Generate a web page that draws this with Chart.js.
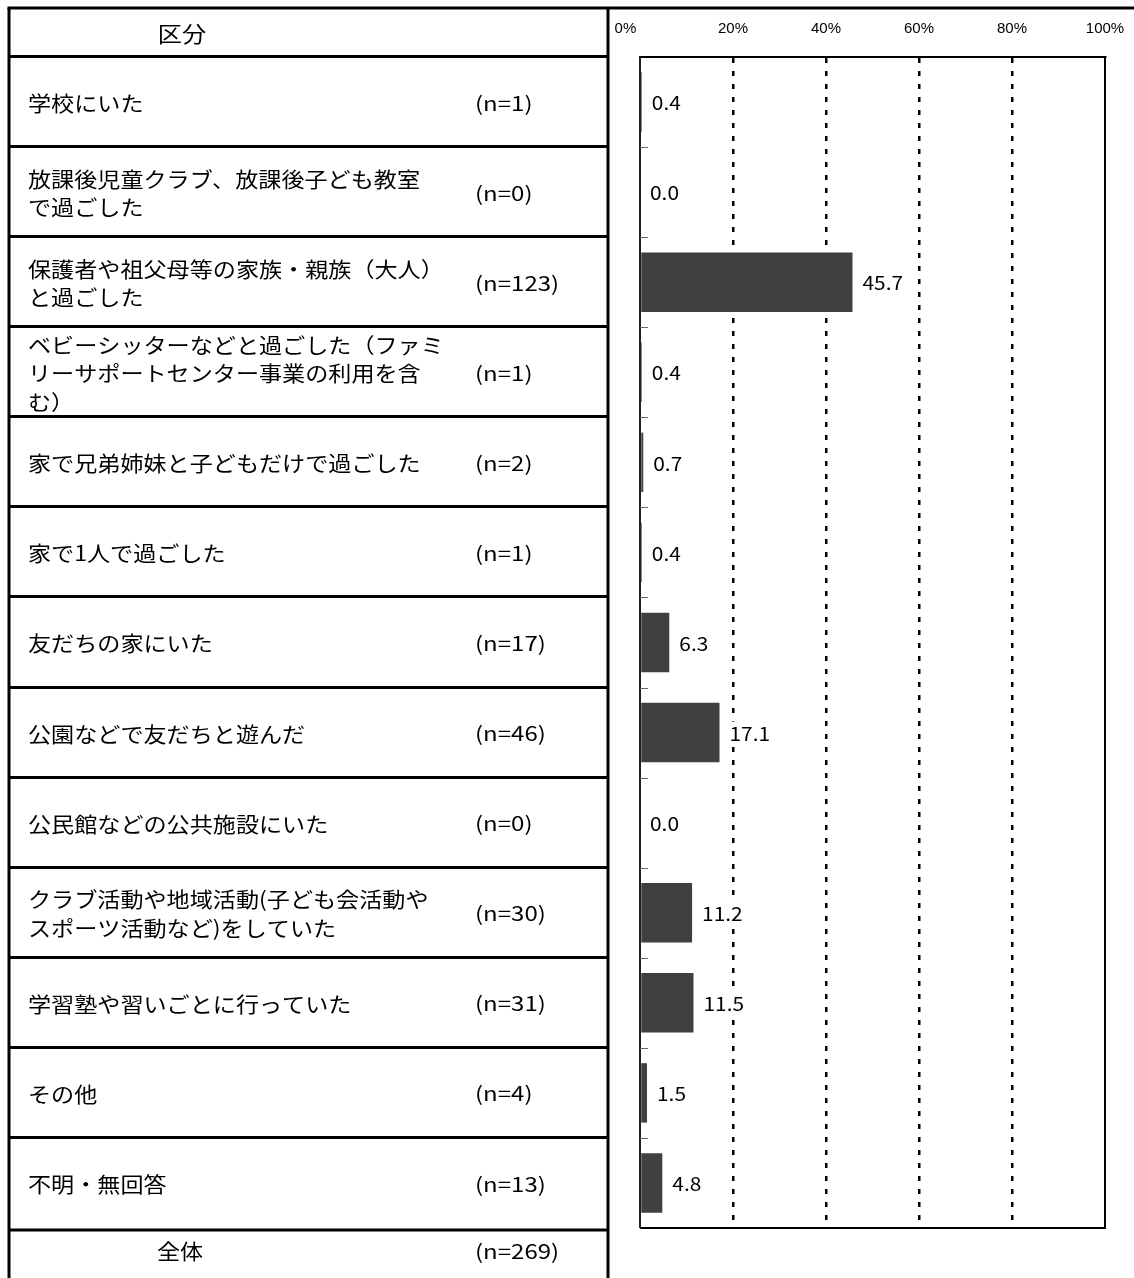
<!DOCTYPE html>
<html>
<head>
<meta charset="utf-8">
<script src="https://cdn.jsdelivr.net/npm/chart.js@4/dist/chart.umd.min.js"></script>
<style>
html,body{margin:0;padding:0;background:#fff;}
#wrap{width:1134px;height:1278px;position:relative;}
</style>
</head>
<body>
<div id="wrap"><canvas id="c" width="1134" height="1278"></canvas></div>
<script>
const categories = [
  ["学校にいた"],
  ["放課後児童クラブ、放課後子ども教室", "で過ごした"],
  ["保護者や祖父母等の家族・親族（大人）", "と過ごした"],
  ["ベビーシッターなどと過ごした（ファミ", "リーサポートセンター事業の利用を含", "む）"],
  ["家で兄弟姉妹と子どもだけで過ごした"],
  ["家で1人で過ごした"],
  ["友だちの家にいた"],
  ["公園などで友だちと遊んだ"],
  ["公民館などの公共施設にいた"],
  ["クラブ活動や地域活動(子ども会活動や", "スポーツ活動など)をしていた"],
  ["学習塾や習いごとに行っていた"],
  ["その他"],
  ["不明・無回答"]
];
const nCounts = [1, 0, 123, 1, 2, 1, 17, 46, 0, 30, 31, 4, 13];
const percentValues = [0.4, 0.0, 45.7, 0.4, 0.7, 0.4, 6.3, 17.1, 0.0, 11.2, 11.5, 1.5, 4.8];
const headerLabel = "区分";
const totalLabel = "全体";
const totalN = 269;
const xTicks = [0, 20, 40, 60, 80, 100];

const JP = '"Noto Sans CJK JP", "Noto Sans", sans-serif';
const SX = 1.1;

function drawText(ctx, t, x, y, align, sx) {
  ctx.save();
  ctx.translate(x, y);
  ctx.scale(sx || SX, 1);
  ctx.textAlign = align || 'left';
  ctx.fillText(t, 0, 0);
  ctx.restore();
}

const tablePlugin = {
  id: 'tablePlugin',
  beforeDraw(chart) {
    const ctx = chart.ctx;
    const y = chart.scales.y;
    const ca = chart.chartArea;
    const step = (ca.bottom - ca.top) / categories.length;
    ctx.save();
    ctx.fillStyle = '#fff';
    ctx.fillRect(0, 0, chart.width, chart.height);
    ctx.strokeStyle = '#000';
    ctx.lineWidth = 3;
    const L = 9, R = 608, TOP = 8;
    ctx.beginPath(); ctx.moveTo(L - 1.5, TOP); ctx.lineTo(chart.width, TOP); ctx.stroke();
    ctx.beginPath(); ctx.moveTo(L, TOP); ctx.lineTo(L, chart.height); ctx.stroke();
    ctx.beginPath(); ctx.moveTo(R, TOP); ctx.lineTo(R, chart.height); ctx.stroke();
    const bounds = [];
    for (let i = 0; i <= categories.length; i++) {
      const yy = (i < categories.length) ? y.getPixelForValue(i) - step / 2 : y.getPixelForValue(categories.length - 1) + step / 2;
      bounds.push(yy);
    }
    bounds.forEach((yy, i) => {
      const py = Math.round(yy) + (i === categories.length ? 2 : -0.5);
      ctx.beginPath(); ctx.moveTo(L, py); ctx.lineTo(R, py); ctx.stroke();
    });
    ctx.fillStyle = '#000';
    ctx.textBaseline = 'middle';
    ctx.font = '22px ' + JP;
    drawText(ctx, headerLabel, 182, (TOP + bounds[0]) / 2 + 1, 'center');
    const lineH = 28.5;
    categories.forEach((lines, i) => {
      const cy = y.getPixelForValue(i) + 1;
      ctx.font = '21px ' + JP;
      const startY = cy - (lines.length - 1) * lineH / 2;
      lines.forEach((ln, k) => drawText(ctx, ln, 28, startY + k * lineH, 'left'));
      ctx.font = '20px ' + JP;
      drawText(ctx, '(n=' + nCounts[i] + ')', 475, cy, 'left', 1.2);
    });
    const totalY = bounds[categories.length] + 23;
    ctx.font = '21px ' + JP;
    drawText(ctx, totalLabel, 180, totalY, 'center');
    ctx.font = '20px ' + JP;
    drawText(ctx, '(n=' + totalN + ')', 475, totalY, 'left', 1.2);
    ctx.restore();
  },
  afterDatasetsDraw(chart) {
    const ctx = chart.ctx;
    const ca = chart.chartArea;
    const y = chart.scales.y;
    const step = (ca.bottom - ca.top) / categories.length;
    ctx.save();
    ctx.strokeStyle = '#000';
    ctx.lineWidth = 2;
    ctx.beginPath();
    ctx.moveTo(ca.left, ca.top); ctx.lineTo(ca.right, ca.top); ctx.lineTo(ca.right, ca.bottom); ctx.lineTo(ca.left, ca.bottom);
    ctx.stroke();
    ctx.strokeStyle = '#222';
    ctx.beginPath(); ctx.moveTo(ca.left, ca.top); ctx.lineTo(ca.left, ca.bottom); ctx.stroke();
    ctx.strokeStyle = '#666';
    ctx.lineWidth = 1;
    for (let i = 1; i < categories.length; i++) {
      const yy = Math.round(y.getPixelForValue(i) - step / 2) + 0.5;
      ctx.beginPath(); ctx.moveTo(ca.left, yy); ctx.lineTo(ca.left + 8, yy); ctx.stroke();
    }
    const meta = chart.getDatasetMeta(0);
    ctx.font = '19px ' + JP;
    ctx.textBaseline = 'middle';
    meta.data.forEach((bar, i) => {
      const t = percentValues[i].toFixed(1);
      const x0 = bar.x + 10;
      const w = ctx.measureText(t).width * SX;
      ctx.fillStyle = '#fff';
      ctx.fillRect(x0 - 1, bar.y - 11, w + 2, 22);
      ctx.fillStyle = '#000';
      drawText(ctx, t, x0, bar.y + 1, 'left');
    });
    ctx.restore();
  }
};

new Chart(document.getElementById('c'), {
  type: 'bar',
  data: {
    labels: categories.map(c => c.join('')),
    datasets: [{
      data: percentValues,
      backgroundColor: '#404040',
      borderWidth: 0,
      barPercentage: 0.66,
      categoryPercentage: 1.0
    }]
  },
  options: {
    indexAxis: 'y',
    responsive: false,
    animation: false,
    devicePixelRatio: 1,
    layout: { padding: { left: 640, right: 29, top: 8, bottom: 50 } },
    plugins: { legend: { display: false }, tooltip: { enabled: false } },
    scales: {
      x: {
        position: 'top',
        min: 0, max: 100,
        afterBuildTicks(scale) { scale.ticks = xTicks.map(v => ({ value: v })); },
        afterFit(scale) { scale.height = 49; scale.paddingLeft = 0; scale.paddingRight = 0; },
        ticks: {
          callback: v => v === 0 ? '0%\u2007\u2007\u2007 ' : v + '%',
          font: { family: '"Liberation Sans", sans-serif', size: 15 },
          color: '#000',
          padding: 19,
          maxRotation: 0,
          autoSkip: false
        },
        grid: {
          drawTicks: false,
          color: ctx => (ctx.tick && (ctx.tick.value === 0 || ctx.tick.value === 100)) ? 'rgba(0,0,0,0)' : '#000',
          lineWidth: 2.5
        },
        border: { display: true, color: '#000', width: 2, dash: [5, 8] }
      },
      y: {
        display: false,
        offset: true,
        grid: { display: false }
      }
    }
  },
  plugins: [tablePlugin]
});
</script>
</body>
</html>
